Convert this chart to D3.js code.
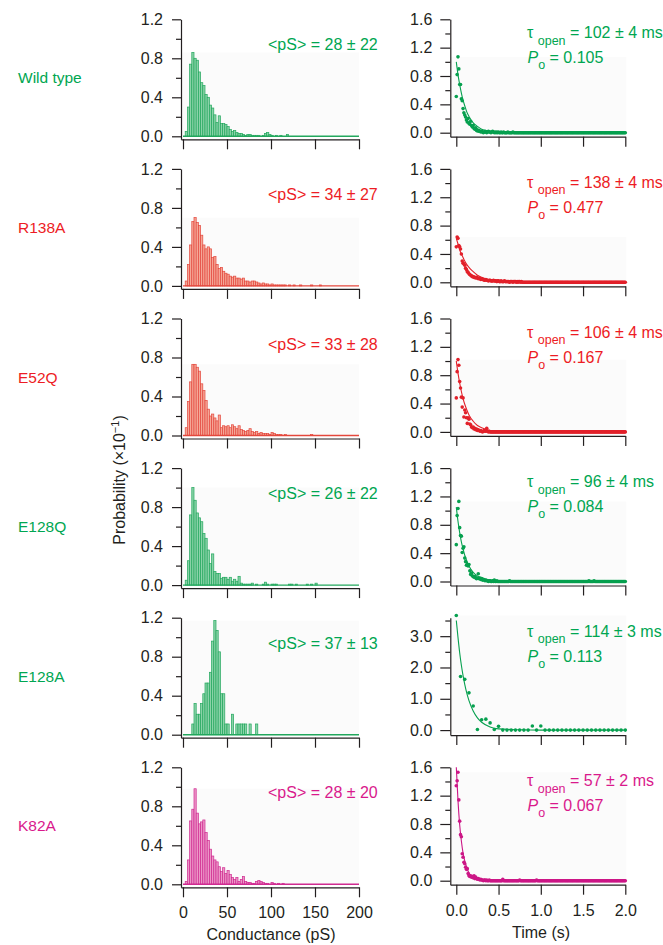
<!DOCTYPE html>
<html>
<head>
<meta charset="utf-8">
<script src="https://cdn.jsdelivr.net/npm/d3@7"></script>
<style>
  body { margin: 0; background: #fff; }
  svg text { font-family: "Liberation Sans", Arial, sans-serif; }
</style>
</head>
<body>
<script>
// Mutants, one row each
var mutants = ["Wild type", "R138A", "E52Q", "E128Q", "E128A", "K82A"];
var palette = ["green", "red", "red", "green", "green", "magenta"];

// Annotation values
var pSMean = [28, 34, 33, 26, 37, 28];
var pSSD = [22, 27, 28, 22, 13, 20];
var tauOpen = [102, 138, 106, 96, 114, 57];
var tauErr = [4, 4, 4, 4, 3, 2];
var pOpen = ["0.105", "0.477", "0.167", "0.084", "0.113", "0.067"];

// Conductance histograms, 2.5 pS bins starting at 0 (probability x10^-1)
var binWidth = 2.5;
var histWT = [0, 0.05, 0.30, 0.74, 0.86, 0.80, 0.78, 0.66, 0.55, 0.52,
  0.43, 0.40, 0.32, 0.29, 0.22, 0.14, 0.21, 0.13, 0.13, 0.12,
  0.10, 0.07, 0.05, 0.06, 0.04, 0.03, 0.03, 0.02, 0.01, 0.02,
  0.02, 0.01, 0.01, 0.01, 0.01, 0.00, 0.01, 0.03, 0.04, 0.02,
  0.01, 0.00, 0.01, 0.00, 0.01, 0.00, 0.00, 0.02];
var histR138A = [0, 0.05, 0.22, 0.42, 0.66, 0.70, 0.65, 0.62, 0.52, 0.42,
  0.38, 0.40, 0.38, 0.29, 0.30, 0.22, 0.18, 0.19, 0.15, 0.13,
  0.12, 0.10, 0.09, 0.10, 0.08, 0.08, 0.07, 0.08, 0.05, 0.05,
  0.04, 0.05, 0.05, 0.04, 0.03, 0.02, 0.03, 0.02, 0.02, 0.01,
  0.02, 0.01, 0.01, 0.01, 0.01, 0.01, 0.01, 0.00, 0.01, 0.00,
  0.01, 0.00, 0.00, 0.01, 0.00, 0.00, 0.00, 0.00, 0.01, 0.00,
  0.00, 0.00, 0.01];
var histE52Q = [0, 0.08, 0.35, 0.55, 0.73, 0.73, 0.70, 0.66, 0.53, 0.46,
  0.36, 0.27, 0.20, 0.22, 0.18, 0.15, 0.21, 0.08, 0.10, 0.09,
  0.10, 0.08, 0.11, 0.09, 0.07, 0.10, 0.06, 0.05, 0.04, 0.05,
  0.07, 0.04, 0.03, 0.04, 0.02, 0.03, 0.02, 0.02, 0.02, 0.01,
  0.03, 0.02, 0.01, 0.01, 0.01, 0.00, 0.01, 0.00, 0.00, 0.00,
  0.00, 0.00, 0.00, 0.00, 0.00, 0.00, 0.00, 0.00, 0.01];
var histE128Q = [0, 0.05, 0.25, 0.72, 1.00, 0.87, 0.74, 0.69, 0.65, 0.53,
  0.48, 0.36, 0.22, 0.32, 0.14, 0.12, 0.12, 0.07, 0.08, 0.08,
  0.06, 0.08, 0.04, 0.06, 0.04, 0.09, 0.02, 0.01, 0.01, 0.01,
  0.01, 0.02, 0.00, 0.01, 0.00, 0.00, 0.01, 0.03, 0.01, 0.00,
  0.01, 0.01, 0.01, 0.00, 0.00, 0.00, 0.00, 0.00, 0.01, 0.01,
  0.00, 0.01, 0.00, 0.00, 0.00, 0.00, 0.01, 0.00, 0.01, 0.00,
  0.02];
var histE128A = [0, 0, 0, 0, 0.11, 0.32, 0.21, 0.21, 0.32, 0.42,
  0.53, 0.53, 0.64, 0.96, 1.17, 1.07, 0.85, 0.42, 0.42, 0.11,
  0.11, 0, 0.21, 0, 0.11, 0.11, 0.11, 0.11, 0.11, 0,
  0.11, 0, 0, 0.11];
var histK82A = [0, 0.03, 0.25, 0.65, 0.77, 0.98, 0.73, 0.62, 0.64, 0.66,
  0.53, 0.45, 0.36, 0.29, 0.25, 0.23, 0.18, 0.13, 0.17, 0.11,
  0.14, 0.10, 0.07, 0.05, 0.07, 0.03, 0.05, 0.08, 0.03, 0.02,
  0.02, 0.01, 0.01, 0.03, 0.04, 0.03, 0.02, 0.01, 0.01, 0.00,
  0.02, 0.01, 0.00, 0.01, 0.00, 0.01];

// Open dwell-time distributions, 10 ms bins from 0 to 2 s (E128A: 50 ms bins)
var dwellBin = [0.01, 0.01, 0.01, 0.01, 0.05, 0.01];
var dwellWT = [0.51, 0.82, 1.07, 0.90, 0.68, 0.68, 0.48, 0.45, 0.34, 0.28,
  0.25, 0.22, 0.18, 0.15, 0.20, 0.13, 0.12, 0.16, 0.10, 0.08,
  0.10, 0.06, 0.05, 0.07, 0.03, 0.04, 0.02, 0.03, 0.02, 0.01,
  0.02, 0.01, 0.00, 0.01, 0.02, 0.01, 0.00, 0.01, 0.02, 0.01,
  0.01, 0.00, 0.01, 0.02, 0.01, 0.00, 0.01, 0.00, 0.01, 0.00,
  0.01, 0.00, 0.00, 0.01, 0.00, 0.00, 0.01, 0.00, 0.00, 0.00,
  0.00, 0.01, 0.00, 0.00, 0.00, 0.00, 0.00, 0.01, 0.00, 0.00,
  0, 0, 0, 0, 0, 0, 0, 0, 0, 0,
  0, 0, 0, 0, 0, 0, 0, 0, 0, 0,
  0, 0, 0, 0, 0, 0, 0, 0, 0, 0,
  0, 0, 0, 0, 0, 0, 0, 0, 0, 0,
  0, 0, 0, 0, 0, 0, 0, 0, 0, 0,
  0, 0, 0, 0, 0, 0, 0, 0, 0, 0,
  0, 0, 0, 0, 0, 0, 0, 0, 0, 0,
  0, 0, 0, 0, 0, 0, 0, 0, 0, 0,
  0, 0, 0, 0, 0, 0, 0, 0, 0, 0,
  0, 0, 0, 0, 0, 0, 0, 0, 0, 0,
  0, 0, 0, 0, 0, 0, 0, 0, 0, 0,
  0, 0, 0, 0, 0, 0, 0, 0, 0, 0,
  0, 0, 0, 0, 0, 0, 0, 0, 0, 0,
  0];
var dwellR138A = [0.50, 0.64, 0.62, 0.52, 0.50, 0.47, 0.40, 0.30, 0.27, 0.26,
  0.24, 0.20, 0.18, 0.15, 0.14, 0.12, 0.11, 0.10, 0.09, 0.08,
  0.08, 0.07, 0.07, 0.06, 0.07, 0.06, 0.05, 0.06, 0.05, 0.04,
  0.05, 0.04, 0.04, 0.03, 0.03, 0.04, 0.03, 0.03, 0.02, 0.03,
  0.03, 0.02, 0.02, 0.02, 0.03, 0.02, 0.02, 0.02, 0.01, 0.02,
  0.02, 0.01, 0.01, 0.02, 0.01, 0.01, 0.01, 0.02, 0.01, 0.01,
  0.01, 0.01, 0.01, 0.00, 0.01, 0.01, 0.01, 0.00, 0.01, 0.01,
  0.01, 0.00, 0.01, 0.00, 0.01, 0.01, 0.00, 0.01, 0.00, 0.00,
  0, 0, 0, 0, 0, 0, 0, 0, 0, 0,
  0, 0, 0, 0, 0, 0, 0, 0, 0, 0,
  0, 0, 0, 0, 0, 0, 0, 0, 0, 0,
  0, 0, 0, 0, 0, 0, 0, 0, 0, 0,
  0, 0, 0, 0, 0, 0, 0, 0, 0, 0,
  0, 0, 0, 0, 0, 0, 0, 0, 0, 0,
  0, 0, 0, 0, 0, 0, 0, 0, 0, 0,
  0, 0, 0, 0, 0, 0, 0, 0, 0, 0,
  0, 0, 0, 0, 0, 0, 0, 0, 0, 0,
  0, 0, 0, 0, 0, 0, 0, 0, 0, 0,
  0, 0, 0, 0, 0, 0, 0, 0, 0, 0,
  0, 0, 0, 0, 0, 0, 0, 0, 0, 0,
  0];
var dwellE52Q = [0.48, 0.85, 1.02, 0.94, 0.71, 0.62, 0.49, 0.35, 0.48, 0.21,
  0.31, 0.27, 0.20, 0.12, 0.20, 0.18, 0.11, 0.10, 0.07, 0.06,
  0.07, 0.04, 0.05, 0.03, 0.04, 0.02, 0.03, 0.02, 0.01, 0.02,
  0.01, 0.00, 0.01, 0.02, 0.01, 0.01, 0.05, 0.01, 0.00, 0.01,
  0, 0, 0, 0, 0, 0, 0, 0, 0, 0,
  0, 0, 0, 0, 0, 0, 0, 0, 0, 0,
  0, 0, 0, 0, 0, 0, 0, 0, 0, 0,
  0, 0, 0, 0, 0, 0, 0, 0, 0, 0,
  0, 0, 0, 0, 0, 0, 0, 0, 0, 0,
  0, 0, 0, 0, 0, 0, 0, 0, 0, 0,
  0, 0, 0, 0, 0, 0, 0, 0, 0, 0,
  0, 0, 0, 0, 0, 0, 0, 0, 0, 0,
  0, 0, 0, 0, 0, 0, 0, 0, 0, 0,
  0, 0, 0, 0, 0, 0, 0, 0, 0, 0,
  0, 0, 0, 0, 0, 0, 0, 0, 0, 0,
  0, 0, 0, 0, 0, 0, 0, 0, 0, 0,
  0, 0, 0, 0, 0, 0, 0, 0, 0, 0,
  0, 0, 0, 0, 0, 0, 0, 0, 0, 0,
  0, 0, 0, 0, 0, 0, 0, 0, 0, 0,
  0, 0, 0, 0, 0, 0, 0, 0, 0, 0,
  0];
var dwellE128Q = [0.52, 0.93, 1.03, 1.13, 0.76, 0.65, 0.64, 0.41, 0.47, 0.49,
  0.33, 0.28, 0.23, 0.24, 0.22, 0.24, 0.15, 0.10, 0.12, 0.08,
  0.07, 0.06, 0.07, 0.05, 0.04, 0.05, 0.11, 0.04, 0.05, 0.03,
  0.04, 0.02, 0.03, 0.02, 0.01, 0.02, 0.01, 0.01, 0.00, 0.01,
  0.01, 0.00, 0.00, 0.01, 0.00, 0.02, 0.00, 0.00, 0.01, 0.00,
  0, 0, 0, 0, 0, 0, 0, 0, 0, 0,
  0, 0, 0, 0.01, 0, 0, 0, 0, 0, 0,
  0, 0, 0, 0, 0, 0, 0, 0, 0, 0,
  0, 0, 0, 0, 0, 0, 0, 0, 0, 0,
  0, 0, 0, 0, 0, 0, 0, 0, 0, 0,
  0, 0, 0, 0, 0, 0, 0, 0, 0, 0,
  0, 0, 0, 0, 0, 0, 0, 0, 0, 0,
  0, 0, 0, 0, 0, 0, 0, 0, 0, 0,
  0, 0, 0, 0, 0, 0, 0, 0, 0, 0,
  0, 0, 0, 0, 0, 0, 0, 0, 0, 0,
  0, 0, 0, 0, 0, 0, 0, 0.01, 0, 0,
  0, 0, 0, 0.01, 0, 0, 0, 0, 0, 0,
  0, 0, 0, 0, 0, 0, 0, 0, 0, 0,
  0, 0, 0, 0, 0, 0, 0, 0, 0, 0,
  0, 0, 0, 0, 0, 0, 0, 0, 0, 0,
  0];
var dwellE128A = [3.66, 1.71, 1.62, 1.19, 0.77, 0.02, 0.33, 0.35, 0.23, 0.02,
  0.12, 0, 0, 0, 0, 0, 0, 0, 0.13, 0,
  0.13, 0, 0, 0, 0, 0, 0, 0, 0, 0,
  0, 0, 0, 0, 0, 0, 0, 0, 0, 0,
  0];
var dwellK82A = [1.34, 1.41, 1.53, 1.14, 0.84, 0.65, 0.62, 0.38, 0.33, 0.26,
  0.24, 0.19, 0.16, 0.17, 0.10, 0.07, 0.06, 0.07, 0.05, 0.06,
  0.04, 0.07, 0.03, 0.05, 0.03, 0.02, 0.03, 0.02, 0.01, 0.02,
  0.01, 0.01, 0.00, 0.01, 0.01, 0.00, 0.01, 0.00, 0.00, 0.01,
  0, 0, 0, 0, 0, 0, 0, 0, 0, 0,
  0, 0, 0, 0, 0, 0.02, 0, 0, 0, 0,
  0, 0, 0, 0, 0, 0, 0, 0, 0, 0,
  0, 0, 0, 0, 0, 0.01, 0, 0, 0, 0,
  0, 0, 0, 0, 0, 0, 0, 0, 0, 0,
  0, 0, 0, 0, 0, 0.01, 0, 0, 0, 0,
  0, 0, 0, 0, 0, 0, 0, 0, 0, 0,
  0, 0, 0, 0, 0, 0, 0, 0, 0, 0,
  0, 0, 0, 0, 0, 0, 0, 0, 0, 0,
  0, 0, 0, 0, 0, 0, 0, 0, 0, 0,
  0, 0, 0, 0, 0, 0, 0, 0, 0, 0,
  0, 0, 0, 0, 0, 0, 0, 0, 0, 0,
  0, 0, 0, 0, 0, 0, 0, 0, 0, 0,
  0, 0, 0, 0, 0, 0, 0, 0, 0, 0,
  0, 0, 0, 0, 0, 0, 0, 0, 0, 0,
  0, 0, 0, 0, 0, 0, 0, 0, 0, 0,
  0];

// Exponential fit curves, read at these times (s)
var fitTimes = [0, 0.02, 0.04, 0.06, 0.08, 0.10, 0.125, 0.15, 0.20, 0.25, 0.30, 0.40, 0.50, 0.75, 1.0, 2.0];
var fitWT = [1.00, 0.82, 0.68, 0.56, 0.46, 0.38, 0.29, 0.23, 0.14, 0.09, 0.05, 0.02, 0.01, 0, 0, 0];
var fitR138A = [0.62, 0.54, 0.46, 0.40, 0.35, 0.30, 0.25, 0.21, 0.15, 0.10, 0.07, 0.03, 0.02, 0.01, 0, 0];
var fitE52Q = [1.00, 0.83, 0.69, 0.57, 0.47, 0.39, 0.31, 0.24, 0.15, 0.09, 0.06, 0.02, 0.01, 0, 0, 0];
var fitE128Q = [1.05, 0.85, 0.69, 0.56, 0.46, 0.37, 0.29, 0.22, 0.13, 0.08, 0.05, 0.02, 0.01, 0, 0, 0];
var fitE128A = [3.50, 2.96, 2.47, 2.07, 1.74, 1.46, 1.17, 0.94, 0.61, 0.39, 0.25, 0.10, 0.04, 0.01, 0, 0];
var fitK82A = [1.60, 1.13, 0.79, 0.56, 0.39, 0.28, 0.18, 0.11, 0.05, 0.02, 0.01, 0, 0, 0, 0, 0];

// Tick values
var histTicks = [0, 0.4, 0.8, 1.2];
var histMinor = [0.2, 0.6, 1.0];
var condTicks = [0, 50, 100, 150, 200];
var timeTicks = [0, 0.5, 1.0, 1.5, 2.0];
var dwellTicks = [0, 0.4, 0.8, 1.2, 1.6];
var dwellMinor = [0.2, 0.6, 1.0, 1.4];
var dwellTicksBig = [0, 1, 2, 3];
var dwellMinorBig = [0.5, 1.5, 2.5, 3.5];

var hists = [histWT, histR138A, histE52Q, histE128Q, histE128A, histK82A];
var dwells = [dwellWT, dwellR138A, dwellE52Q, dwellE128Q, dwellE128A, dwellK82A];
var fits = [fitWT, fitR138A, fitE52Q, fitE128Q, fitE128A, fitK82A];

var colors = {
  green: { text: "#00a651", dot: "#06a04f", fill: "#8ad3a8", stroke: "#22a75d" },
  red: { text: "#ed1c24", dot: "#e2202a", fill: "#f5a797", stroke: "#e4473c" },
  magenta: { text: "#d9198c", dot: "#cc1686", fill: "#ec96c7", stroke: "#d02a91" }
};
var ink = "#231f20";

var svg = d3.select("body").append("svg")
  .attr("width", 663)
  .attr("height", 945);

function styleAxis(g) {
  g.attr("color", ink).attr("font-size", 16)
    .attr("font-family", "Liberation Sans, Arial, sans-serif");
  g.selectAll("path.domain").attr("stroke-width", 1.2);
  g.selectAll(".tick line").attr("stroke-width", 1.2);
}

mutants.forEach(function(name, r) {
  var top = 19.3 + r * 149.6;
  var c = colors[palette[r]];
  var last = r === mutants.length - 1;

  // Row label
  svg.append("text")
    .attr("x", 18).attr("y", top + 64)
    .attr("fill", c.text).attr("font-size", 15.5)
    .text(name);

  // ----- Conductance histogram -----
  var xL = d3.scaleLinear().domain([-2.27, 200]).range([181, 359]);
  var yL = d3.scaleLinear().domain([-0.0308, 1.2]).range([top + 120, top]);
  var g = svg.append("g");
  var hist = hists[r];

  g.append("rect")
    .attr("x", xL(-2.27)).attr("width", xL(200) - xL(-2.27))
    .attr("y", yL(d3.max(hist))).attr("height", yL(0) - yL(d3.max(hist)))
    .attr("fill", "#fbfbfb");

  g.selectAll("rect.bar")
    .data(hist.map(function(v, i) { return { x0: i * binWidth, v: v }; }).filter(function(d) { return d.v > 0; }))
    .join("rect")
    .attr("class", "bar")
    .attr("x", function(d) { return xL(d.x0); })
    .attr("width", xL(binWidth) - xL(0))
    .attr("y", function(d) { return yL(d.v); })
    .attr("height", function(d) { return yL(0) - yL(d.v); })
    .attr("fill", c.fill)
    .attr("stroke", c.stroke)
    .attr("stroke-width", 0.7);

  g.append("line")
    .attr("x1", xL(0)).attr("x2", xL(200))
    .attr("y1", yL(0)).attr("y2", yL(0))
    .attr("stroke", c.stroke).attr("stroke-width", 1.4);

  g.append("g").attr("transform", "translate(181,0)")
    .call(d3.axisLeft(yL).tickValues(histTicks).tickFormat(d3.format(".1f"))
      .tickSize(9).tickPadding(9).tickSizeOuter(0))
    .call(styleAxis);
  g.append("g").attr("transform", "translate(181,0)")
    .call(d3.axisLeft(yL).tickValues(histMinor).tickFormat("").tickSize(5).tickSizeOuter(0))
    .call(styleAxis)
    .call(function(a) { a.select(".domain").remove(); });

  g.append("g").attr("transform", "translate(0," + (top + 120) + ")")
    .call(d3.axisBottom(xL).tickValues(condTicks)
      .tickFormat(last ? d3.format("d") : "")
      .tickSize(10).tickPadding(9.5).tickSizeOuter(0))
    .call(styleAxis);

  g.append("text")
    .attr("x", 268).attr("y", top + 31)
    .attr("fill", c.text).attr("font-size", 16)
    .text("<pS> = " + pSMean[r] + " \u00b1 " + pSSD[r]);

  // ----- Dwell-time distribution -----
  var big = d3.max(fits[r]) > 2;
  var xR = d3.scaleLinear().domain([-0.071, 2.0]).range([450.3, 625.3]);
  var yR = big
    ? d3.scaleLinear().domain([-0.16, 3.59]).range([top + 117.4, top])
    : d3.scaleLinear().domain([-0.0564, 1.6]).range([top + 117.4, top]);
  var h = svg.append("g");
  var dwell = dwells[r];
  var step = dwellBin[r];
  var dmax = d3.max(dwell);

  h.append("rect")
    .attr("x", 450.3).attr("width", xR(2.0) - 450.3 + 1)
    .attr("y", yR(dmax)).attr("height", yR(0) - yR(dmax) + 3)
    .attr("fill", "#fbfbfb");

  var line = d3.line()
    .x(function(d, i) { return xR(fitTimes[i]); })
    .y(function(d) { return yR(d); })
    .curve(d3.curveMonotoneX);
  h.append("path")
    .attr("d", line(fits[r]))
    .attr("fill", "none")
    .attr("stroke", c.dot)
    .attr("stroke-width", 1.1);

  h.selectAll("circle")
    .data(dwell)
    .join("circle")
    .attr("cx", function(d, i) { return xR(i * step); })
    .attr("cy", function(d) { return yR(d); })
    .attr("r", 1.8)
    .attr("fill", c.dot);

  h.append("g").attr("transform", "translate(450.3,0)")
    .call(d3.axisLeft(yR).tickValues(big ? dwellTicksBig : dwellTicks).tickFormat(d3.format(".1f"))
      .tickSize(10).tickPadding(8).tickSizeOuter(0))
    .call(styleAxis);
  h.append("g").attr("transform", "translate(450.3,0)")
    .call(d3.axisLeft(yR).tickValues(big ? dwellMinorBig : dwellMinor).tickFormat("").tickSize(5).tickSizeOuter(0))
    .call(styleAxis)
    .call(function(a) { a.select(".domain").remove(); });

  h.append("g").attr("transform", "translate(0," + (top + 117.4) + ")")
    .call(d3.axisBottom(xR).tickValues(timeTicks)
      .tickFormat(last ? d3.format(".1f") : "")
      .tickSize(10).tickPadding(10).tickSizeOuter(0))
    .call(styleAxis);

  var t1 = h.append("text")
    .attr("x", 527).attr("y", top + 19)
    .attr("fill", c.text).attr("font-size", 16);
  t1.append("tspan").text("\u03c4 ");
  t1.append("tspan").attr("font-size", 12.5).attr("dy", 6.5).text("open");
  t1.append("tspan").attr("dy", -6.5).text(" = " + tauOpen[r] + " \u00b1 " + tauErr[r] + " ms");

  var t2 = h.append("text")
    .attr("x", 527.5).attr("y", top + 44)
    .attr("fill", c.text).attr("font-size", 16);
  t2.append("tspan").attr("font-style", "italic").text("P");
  t2.append("tspan").attr("font-size", 12.5).attr("dy", 6).text("o");
  t2.append("tspan").attr("dy", -6).text(" = " + pOpen[r]);
});

// Axis titles
var yTitle = svg.append("text")
  .attr("transform", "translate(125,480) rotate(-90)")
  .attr("text-anchor", "middle")
  .attr("fill", ink).attr("font-size", 16);
yTitle.append("tspan").text("Probability (\u00d710");
yTitle.append("tspan").attr("font-size", 11).attr("dy", -6).text("\u22121");
yTitle.append("tspan").attr("dy", 6).text(")");

svg.append("text")
  .attr("x", 271).attr("y", 939.5)
  .attr("text-anchor", "middle")
  .attr("fill", ink).attr("font-size", 16)
  .text("Conductance (pS)");

svg.append("text")
  .attr("x", 541).attr("y", 938)
  .attr("text-anchor", "middle")
  .attr("fill", ink).attr("font-size", 16)
  .text("Time (s)");
</script>
</body>
</html>
